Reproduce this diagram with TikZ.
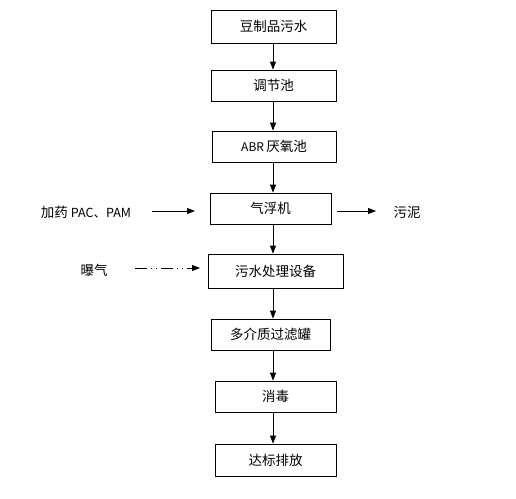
\documentclass[tikz,border=0pt]{standalone}
\usepackage{fontspec}
\setmainfont{Noto Sans CJK SC}
\usetikzlibrary{arrows.meta,calc}
\begin{document}
\begin{tikzpicture}[x=1pt,y=-1pt,
  box/.style={draw,line width=0.8pt,inner sep=0pt,font=\fontsize{13.5}{15}\selectfont},
  lbl/.style={inner sep=0pt,font=\fontsize{13.5}{15}\selectfont},
  arr/.style={line width=0.8pt,-{Triangle[length=8pt,width=6pt]}},
  dda/.style={arr,dash pattern=on 12pt off 4pt on 1pt off 4pt on 1pt off 4pt}]
\useasboundingbox (0,0) rectangle (516,498);
\fill[white] (0,0) rectangle (516,498);
\coordinate (sp) at (273,0);
\node[box,minimum width=125,minimum height=33] (b1) at (273.5,26.5) {豆制品污水};
\node[box,minimum width=125,minimum height=31] (b2) at (273.5,85.5) {调节池};
\node[box,minimum width=124,minimum height=31] (b3) at (274,146.5) {{\fontsize{12}{14}\selectfont ABR}\,厌氧池};
\node[box,minimum width=121,minimum height=31] (b4) at (270.5,208.5) {气浮机};
\node[box,minimum width=135,minimum height=34] (b5) at (275.5,271) {污水处理设备};
\node[box,minimum width=119,minimum height=31] (b6) at (270.5,334.5) {多介质过滤罐};
\node[box,minimum width=121,minimum height=31] (b7) at (275.5,396.5) {消毒};
\node[box,minimum width=121,minimum height=32] (b8) at (275.5,460) {达标排放};
\foreach \a/\b in {b1/b2,b2/b3,b3/b4,b4/b5,b5/b6,b6/b7,b7/b8}
  \draw[arr] (\a.south -| sp) -- (\b.north -| sp);
\node[lbl] (l1) at (86,212) {加药 {\fontsize{12.5}{14}\selectfont PAC、PAM}};
\node[lbl] (r1) at (407,212) {污泥};
\node[lbl] (l2) at (94,270) {曝气};
\coordinate (l1a) at (152,211);
\coordinate (l1b) at (195,211);
\coordinate (r1a) at (337,211);
\coordinate (r1b) at (376,211);
\coordinate (l2a) at (135,268);
\coordinate (l2b) at (200,268);
\draw[arr] (l1a) -- (l1b);
\draw[arr] (r1a) -- (r1b);
\draw[dda] (l2a) -- (l2b);
\end{tikzpicture}
\end{document}
